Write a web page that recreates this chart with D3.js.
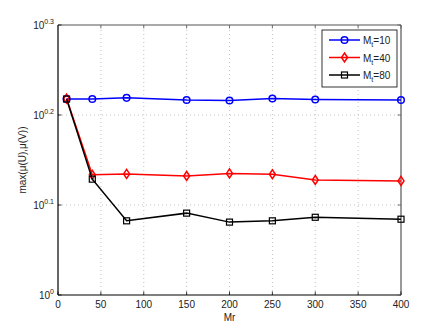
<!DOCTYPE html>
<html>
<head>
<meta charset="utf-8">
<script src="https://cdn.jsdelivr.net/npm/d3@7"></script>
<style>
  body { margin: 0; background: #fff; }
  text { font-family: "Liberation Sans", Arial, sans-serif; fill: #222; }
</style>
</head>
<body>
<div id="chart"></div>
<script>
// data
const mrValues = [10, 40, 80, 150, 200, 250, 300, 400];
const mt10 = [1.651, 1.651, 1.656, 1.647, 1.645, 1.653, 1.649, 1.647];
const mt40 = [1.653, 1.360, 1.363, 1.356, 1.365, 1.362, 1.342, 1.339];
const mt80 = [1.651, 1.345, 1.209, 1.233, 1.205, 1.209, 1.220, 1.214];
const seriesNames = ["10", "40", "80"];
const xTicks = [0, 50, 100, 150, 200, 250, 300, 350, 400];
const yExps = [0, 0.1, 0.2, 0.3];

const width = 442;
const height = 332;
const margin = { left: 58, top: 25, right: 41, bottom: 37 };

const svg = d3.select("#chart")
    .append("svg")
    .attr("width", width)
    .attr("height", height);

const x = d3.scaleLinear()
    .domain([0, 400])
    .range([margin.left, width - margin.right]);

const y = d3.scaleLog()
    .domain([1, Math.pow(10, 0.3)])
    .range([height - margin.bottom, margin.top]);

const x0 = x.range()[0], x1 = x.range()[1];
const y0 = y.range()[0], y1 = y.range()[1];

// grid
svg.selectAll(".gx")
    .data(xTicks.slice(1, -1))
    .join("line")
        .attr("x1", d => x(d)).attr("x2", d => x(d))
        .attr("y1", y0).attr("y2", y1)
        .attr("stroke", "#aaa")
        .attr("stroke-width", 0.7)
        .attr("stroke-dasharray", "1,3");

svg.selectAll(".gy")
    .data(yExps.slice(1, -1))
    .join("line")
        .attr("x1", x0).attr("x2", x1)
        .attr("y1", d => y(Math.pow(10, d))).attr("y2", d => y(Math.pow(10, d)))
        .attr("stroke", "#aaa")
        .attr("stroke-width", 0.7)
        .attr("stroke-dasharray", "1,3");

// box
svg.append("line").attr("x1", x0).attr("x2", x1).attr("y1", y1).attr("y2", y1)
    .attr("stroke", "#555").attr("stroke-width", 1.2);
svg.append("line").attr("x1", x1).attr("x2", x1).attr("y1", y0).attr("y2", y1)
    .attr("stroke", "#777").attr("stroke-width", 1.5);
svg.append("line").attr("x1", x0).attr("x2", x1).attr("y1", y0).attr("y2", y0)
    .attr("stroke", "#000").attr("stroke-width", 1.2);
svg.append("line").attr("x1", x0).attr("x2", x0).attr("y1", y0).attr("y2", y1)
    .attr("stroke", "#000").attr("stroke-width", 1.2);

// inward ticks
const tl = 3.5;
xTicks.forEach(t => {
    svg.append("line").attr("x1", x(t)).attr("x2", x(t)).attr("y1", y0).attr("y2", y0 - tl)
        .attr("stroke", "#000").attr("stroke-width", 0.8);
    svg.append("line").attr("x1", x(t)).attr("x2", x(t)).attr("y1", y1).attr("y2", y1 + tl)
        .attr("stroke", "#555").attr("stroke-width", 0.8);
});
yExps.forEach(e => {
    const yy = y(Math.pow(10, e));
    svg.append("line").attr("x1", x0).attr("x2", x0 + tl).attr("y1", yy).attr("y2", yy)
        .attr("stroke", "#000").attr("stroke-width", 0.8);
    svg.append("line").attr("x1", x1).attr("x2", x1 - tl).attr("y1", yy).attr("y2", yy)
        .attr("stroke", "#555").attr("stroke-width", 0.8);
});

// tick labels
svg.selectAll(".xl")
    .data(xTicks)
    .join("text")
        .attr("x", d => x(d))
        .attr("y", y0 + 13)
        .attr("text-anchor", "middle")
        .style("font-size", "10px")
        .text(d => d);

const yl = svg.selectAll(".yl")
    .data(yExps)
    .join("text")
        .attr("x", x0 - 4)
        .attr("y", d => y(Math.pow(10, d)) + 4)
        .attr("text-anchor", "end")
        .style("font-size", "10px");
yl.append("tspan").text("10");
yl.append("tspan")
    .attr("dy", -5)
    .style("font-size", "7px")
    .text(d => d === 0 ? "0" : d3.format(".1f")(d));

svg.append("text")
    .attr("x", (x0 + x1) / 2)
    .attr("y", y0 + 26)
    .attr("text-anchor", "middle")
    .style("font-size", "10px")
    .text("Mr");

svg.append("text")
    .attr("transform", `translate(26, ${(y0 + y1) / 2}) rotate(-90)`)
    .attr("text-anchor", "middle")
    .style("font-size", "10px")
    .text("max(μ(U),μ(V))");

// series
const series = [
    { name: seriesNames[0], values: mt10, color: "#0000ff", marker: "circle" },
    { name: seriesNames[1], values: mt40, color: "#ff0000", marker: "diamond" },
    { name: seriesNames[2], values: mt80, color: "#000000", marker: "square" }
];

const line = d3.line()
    .x(d => x(d[0]))
    .y(d => y(d[1]));

function drawMarker(g, type, cx, cy, color) {
    if (type === "circle") {
        g.append("circle").attr("cx", cx).attr("cy", cy).attr("r", 3.3)
            .attr("fill", "none").attr("stroke", color).attr("stroke-width", 1.5);
    } else if (type === "diamond") {
        g.append("path")
            .attr("d", `M${cx},${cy - 4.5}L${cx + 3},${cy}L${cx},${cy + 4.5}L${cx - 3},${cy}Z`)
            .attr("fill", "none").attr("stroke", color).attr("stroke-width", 1.5);
    } else {
        g.append("rect").attr("x", cx - 3).attr("y", cy - 3).attr("width", 6).attr("height", 6)
            .attr("fill", "none").attr("stroke", color).attr("stroke-width", 1.2);
    }
}

series.forEach(s => {
    const pts = mrValues.map((m, i) => [m, s.values[i]]);
    svg.append("path")
        .datum(pts)
        .attr("d", line)
        .attr("fill", "none")
        .attr("stroke", s.color)
        .attr("stroke-width", 1.5);
    const g = svg.append("g");
    pts.forEach(p => drawMarker(g, s.marker, x(p[0]), y(p[1]), s.color));
});

// legend
const lg = svg.append("g");
lg.append("rect")
    .attr("x", 322).attr("y", 30).attr("width", 75).attr("height", 57)
    .attr("fill", "#fff").attr("stroke", "#000").attr("stroke-width", 0.8);

series.forEach((s, i) => {
    const ly = 40 + i * 17.5;
    lg.append("line").attr("x1", 329).attr("x2", 360).attr("y1", ly).attr("y2", ly)
        .attr("stroke", s.color).attr("stroke-width", 1.5);
    drawMarker(lg, s.marker, 344.5, ly, s.color);
    const t = lg.append("text")
        .attr("x", 363)
        .attr("y", ly + 4)
        .style("font-size", "10px");
    t.append("tspan").text("M");
    t.append("tspan").attr("dy", 3).style("font-size", "7px").text("t");
    t.append("tspan").attr("dy", -3).text("=" + s.name);
});
</script>
</body>
</html>
